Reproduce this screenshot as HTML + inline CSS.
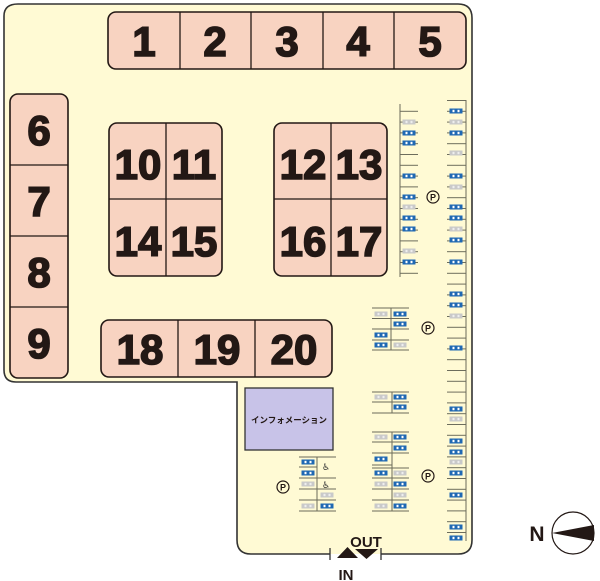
<!DOCTYPE html>
<html><head><meta charset="utf-8"><style>
html,body{margin:0;padding:0;background:#fff;}
svg{display:block;}
.b{fill:#f8d3c1;stroke:#231815;stroke-width:1.6;}
.n{font-family:"Liberation Sans",sans-serif;font-weight:bold;font-size:42px;fill:#231815;stroke:#231815;stroke-width:1.6;text-anchor:middle;}
.l{stroke:#6b6b5a;stroke-width:1;}
.cb{fill:#1f68b3;}
.cg{fill:#c9c9c9;}
</style></head><body>
<svg width="600" height="581" viewBox="0 0 600 581" xmlns="http://www.w3.org/2000/svg">
<defs>
<pattern id="hl" x="0" y="100" width="20" height="10.8" patternUnits="userSpaceOnUse"><line x1="0" y1="0.5" x2="20" y2="0.5" stroke="#6b6b5a" stroke-width="1"/></pattern>
<g id="cb"><rect x="-6.5" y="-2.5" width="13" height="5" class="cb"/><rect x="-3.5" y="-1.2" width="2" height="2.4" fill="#fff"/><rect x="1.5" y="-1.2" width="2" height="2.4" fill="#fff"/></g>
<g id="cg"><rect x="-6.5" y="-2.5" width="13" height="5" class="cg"/><rect x="-3.5" y="-1.2" width="2" height="2.4" fill="#eee"/><rect x="1.5" y="-1.2" width="2" height="2.4" fill="#eee"/></g>
</defs>
<path d="M18,4 H458 Q472,4 472,18 V540 Q472,554 458,554 H251 Q237,554 237,540 V382 H16 Q4,382 4,370 V16 Q4,4 18,4 Z" fill="#fffad4" stroke="none"/>
<path d="M330,554 H251 Q237,554 237,540 V382 H16 Q4,382 4,370 V16 Q4,4 18,4 H458 Q472,4 472,18 V540 Q472,554 458,554 H381" fill="none" stroke="#333" stroke-width="1.6"/>
<line x1="330" y1="548" x2="330" y2="560" stroke="#333" stroke-width="1.3"/>
<line x1="381" y1="548" x2="381" y2="560" stroke="#333" stroke-width="1.3"/>
<polygon points="337,558 358,558 347.5,547" fill="#231815"/>
<polygon points="355,549 378,549 366.5,559" fill="#231815"/>
<text x="366" y="547" font-family="Liberation Sans,sans-serif" font-weight="bold" font-size="15" text-anchor="middle" fill="#231815">OUT</text>
<text x="346" y="580" font-family="Liberation Sans,sans-serif" font-weight="bold" font-size="15" text-anchor="middle" fill="#231815">IN</text>

<rect class="b" x="108" y="12" width="358" height="57" rx="8"/>
<g stroke="#231815" stroke-width="1.3"><line x1="180" y1="12" x2="180" y2="69"/><line x1="251" y1="12" x2="251" y2="69"/><line x1="323" y1="12" x2="323" y2="69"/><line x1="394" y1="12" x2="394" y2="69"/></g>
<text class="n" x="144" y="56">1</text><text class="n" x="215" y="56">2</text><text class="n" x="287" y="56">3</text><text class="n" x="358" y="56">4</text><text class="n" x="430" y="56">5</text>
<rect class="b" x="10" y="94" width="58" height="284" rx="8"/>
<line x1="10" y1="165" x2="68" y2="165" stroke="#231815" stroke-width="1.3"/><line x1="10" y1="236" x2="68" y2="236" stroke="#231815" stroke-width="1.3"/><line x1="10" y1="307" x2="68" y2="307" stroke="#231815" stroke-width="1.3"/>
<text class="n" x="39" y="145">6</text><text class="n" x="39" y="216">7</text><text class="n" x="39" y="287">8</text><text class="n" x="39" y="358">9</text>
<rect class="b" x="109" y="123" width="113" height="153" rx="8"/>
<line x1="166" y1="123" x2="166" y2="276" stroke="#231815" stroke-width="1.3"/><line x1="109" y1="199" x2="222" y2="199" stroke="#231815" stroke-width="1.3"/>
<text class="n" x="138" y="179">10</text><text class="n" x="194" y="179">11</text><text class="n" x="138" y="256">14</text><text class="n" x="194" y="256">15</text>
<rect class="b" x="274" y="123" width="113" height="153" rx="8"/>
<line x1="331" y1="123" x2="331" y2="276" stroke="#231815" stroke-width="1.3"/><line x1="274" y1="199" x2="387" y2="199" stroke="#231815" stroke-width="1.3"/>
<text class="n" x="303" y="179">12</text><text class="n" x="359" y="179">13</text><text class="n" x="303" y="256">16</text><text class="n" x="359" y="256">17</text>
<rect class="b" x="101" y="320" width="231" height="57" rx="8"/>
<line x1="178" y1="320" x2="178" y2="377" stroke="#231815" stroke-width="1.3"/><line x1="255" y1="320" x2="255" y2="377" stroke="#231815" stroke-width="1.3"/>
<text class="n" x="140" y="364">18</text><text class="n" x="217" y="364">19</text><text class="n" x="294" y="364">20</text>
<rect x="245" y="388" width="88" height="62" fill="#c8c3e8" stroke="#333" stroke-width="1.3"/>
<text x="289" y="423" font-family="Liberation Sans,'Noto Sans CJK JP',sans-serif" font-weight="bold" font-size="8.5" text-anchor="middle" fill="#231815">インフォメーション</text>

<rect x="447" y="100" width="19" height="440" fill="url(#hl)"/>
<line x1="466" y1="100" x2="466" y2="541" class="l"/>
<rect x="400" y="104" width="18" height="173" fill="url(#hl)"/>
<line x1="400" y1="104" x2="400" y2="277" class="l"/>
<g class="l">
<line x1="372" y1="308" x2="409" y2="308"/><line x1="372" y1="318.5" x2="409" y2="318.5"/><line x1="372" y1="329" x2="409" y2="329"/><line x1="372" y1="340" x2="409" y2="340"/><line x1="372" y1="350" x2="409" y2="350"/><line x1="391" y1="308" x2="391" y2="350"/>
<line x1="372" y1="392" x2="409" y2="392"/><line x1="372" y1="402" x2="409" y2="402"/><line x1="372" y1="413" x2="409" y2="413"/><line x1="392" y1="392" x2="392" y2="413"/>
<line x1="372" y1="432" x2="409" y2="432"/><line x1="372" y1="442" x2="409" y2="442"/><line x1="372" y1="453" x2="409" y2="453"/><line x1="372" y1="465" x2="392" y2="465"/><line x1="372" y1="468" x2="409" y2="468"/><line x1="372" y1="478" x2="409" y2="478"/><line x1="372" y1="489" x2="409" y2="489"/><line x1="372" y1="500" x2="409" y2="500"/><line x1="372" y1="511" x2="409" y2="511"/><line x1="392" y1="432" x2="392" y2="511"/>
<line x1="299" y1="457" x2="336" y2="457"/><line x1="299" y1="467" x2="317" y2="467"/><line x1="299" y1="478" x2="336" y2="478"/><line x1="299" y1="489" x2="317" y2="489"/><line x1="299" y1="500" x2="336" y2="500"/><line x1="299" y1="511" x2="336" y2="511"/><line x1="317" y1="457" x2="317" y2="511"/><line x1="317" y1="489" x2="336" y2="489"/>
</g>
<g transform="translate(456,0)">
<use href="#cb" y="111"/><use href="#cg" y="122"/><use href="#cb" y="133"/><use href="#cg" y="153"/><use href="#cb" y="176"/><use href="#cg" y="187"/><use href="#cb" y="207"/><use href="#cb" y="218"/><use href="#cg" y="229"/><use href="#cb" y="240"/><use href="#cb" y="262"/><use href="#cb" y="294"/><use href="#cb" y="305"/><use href="#cg" y="316"/><use href="#cb" y="348"/><use href="#cb" y="409"/><use href="#cg" y="419"/><use href="#cb" y="441"/><use href="#cb" y="452"/><use href="#cg" y="462"/><use href="#cb" y="473"/><use href="#cb" y="495"/><use href="#cb" y="527"/><use href="#cb" y="538"/>
</g>
<g transform="translate(409,0)">
<use href="#cg" y="122"/><use href="#cb" y="133"/><use href="#cb" y="143"/><use href="#cb" y="176"/><use href="#cb" y="197"/><use href="#cg" y="207"/><use href="#cb" y="218"/><use href="#cb" y="229"/><use href="#cg" y="251"/><use href="#cb" y="262"/>
</g>
<use href="#cg" x="381" y="314"/><use href="#cb" x="400" y="314"/><use href="#cb" x="400" y="324"/><use href="#cb" x="381" y="335"/><use href="#cb" x="381" y="345"/><use href="#cg" x="400" y="345"/>
<use href="#cg" x="381" y="397"/><use href="#cb" x="400" y="397"/><use href="#cb" x="400" y="407"/>
<use href="#cg" x="381" y="437"/><use href="#cb" x="400" y="437"/><use href="#cb" x="400" y="448"/><use href="#cb" x="381" y="459"/><use href="#cb" x="381" y="473"/><use href="#cg" x="400" y="473"/><use href="#cg" x="381" y="484"/><use href="#cb" x="400" y="484"/><use href="#cg" x="400" y="495"/><use href="#cg" x="381" y="506"/><use href="#cb" x="400" y="506"/>
<use href="#cb" x="308" y="462"/><use href="#cb" x="308" y="473"/><use href="#cg" x="308" y="484"/><use href="#cg" x="327" y="495"/><use href="#cg" x="308" y="506"/><use href="#cb" x="327" y="506"/>
<text x="326" y="470" font-family="DejaVu Sans,sans-serif" font-size="9" text-anchor="middle" fill="#333">♿</text>
<text x="326" y="488" font-family="DejaVu Sans,sans-serif" font-size="9" text-anchor="middle" fill="#333">♿</text>
<g font-family="Liberation Sans,sans-serif" font-weight="bold" font-size="9" text-anchor="middle" fill="#231815">
<circle cx="433" cy="197" r="6" fill="none" stroke="#231815" stroke-width="1.2"/><text x="433" y="200.5">P</text>
<circle cx="428" cy="328" r="6" fill="none" stroke="#231815" stroke-width="1.2"/><text x="428" y="331.5">P</text>
<circle cx="428" cy="476" r="6" fill="none" stroke="#231815" stroke-width="1.2"/><text x="428" y="479.5">P</text>
<circle cx="283" cy="487" r="6" fill="none" stroke="#231815" stroke-width="1.2"/><text x="283" y="490.5">P</text>
</g>
<text x="537" y="541" font-family="Liberation Sans,sans-serif" font-weight="bold" font-size="21" text-anchor="middle" fill="#231815">N</text>
<circle cx="573" cy="533" r="21" fill="#fff" stroke="#231815" stroke-width="1.2"/>
<polygon points="552,533 594,525 594,541" fill="#231815"/>
</svg>
</body></html>
